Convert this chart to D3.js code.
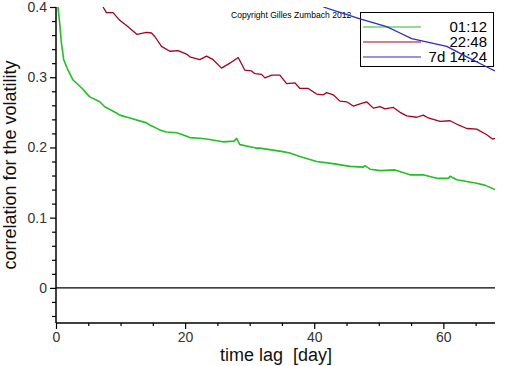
<!DOCTYPE html>
<html>
<head>
<meta charset="utf-8">
<script src="https://cdn.jsdelivr.net/npm/d3@7"></script>
<style>
  body { margin: 0; background: #fff; }
  svg { display: block; }
  text { font-family: "Liberation Sans", Arial, sans-serif; }
</style>
</head>
<body>
<svg id="chart" width="512" height="366"></svg>
<script>
// series: [time lag in days, correlation]
var green0112 = [[0.3,0.400],[0.57,0.377],[0.84,0.349],[1.19,0.325],[1.86,0.310],[2.64,0.296],[3.94,0.285],
  [5.22,0.272],[6.78,0.265],[7.55,0.258],[9.36,0.249],[9.88,0.246],[11.43,0.242],[14.02,0.235],[14.53,0.232],
  [16.08,0.225],[17.12,0.222],[18.67,0.221],[19.64,0.218],[20.73,0.214],[22.28,0.213],[23.32,0.212],[25.84,0.208],
  [27.6,0.209],[27.97,0.213],[28.48,0.204],[31.07,0.199],[31.58,0.199],[35.15,0.194],[36.23,0.192],[37.78,0.187],
  [40.37,0.180],[42.90,0.177],[45.54,0.173],[47.6,0.172],[47.86,0.174],[48.64,0.169],[50.19,0.167],[52.51,0.168],
  [54.84,0.161],[56.85,0.161],[58.98,0.156],[60.8,0.156],[61.04,0.159],[62.08,0.154],[65.18,0.149],[66.5,0.146],[68.0,0.140]];

var red2248 = [[7.29,0.400],[7.81,0.392],[8.84,0.392],[9.88,0.381],[11.16,0.372],[12.56,0.361],[14.02,0.364],
  [14.79,0.363],[15.30,0.358],[16.34,0.344],[17.63,0.337],[18.91,0.338],[20.22,0.333],[20.73,0.329],[22.28,0.325],
  [23.32,0.330],[24.34,0.325],[25.64,0.313],[26.93,0.320],[28.22,0.328],[29.26,0.310],[30.29,0.309],[30.81,0.305],
  [31.84,0.304],[32.36,0.299],[33.40,0.303],[34.68,0.303],[35.72,0.291],[37.01,0.292],[37.78,0.284],[39.07,0.284],
  [40.37,0.276],[41.40,0.275],[41.92,0.278],[42.95,0.275],[43.98,0.266],[45.02,0.265],[46.05,0.259],[47.09,0.262],
  [48.12,0.265],[49.15,0.256],[50.19,0.258],[50.96,0.255],[52.25,0.257],[53.29,0.250],[54.33,0.245],[55.88,0.243],
  [56.90,0.246],[57.67,0.242],[59.49,0.237],[61.04,0.238],[62.33,0.232],[63.63,0.227],[65.18,0.226],[66.73,0.218],
  [67.6,0.212],[68.0,0.213]];

var blue7d1424 = [[41.40,0.400],[47.09,0.383],[51.22,0.372],[53.29,0.363],[55.10,0.355],[60.53,0.344],
  [63.63,0.329],[66.20,0.317],[68.0,0.309]];

var seriesNames = ["01:12", "22:48", "7d 14:24"];
var seriesColors = ["#22c022", "#a8001c", "#2a2ac8"];
var xMajor = [0, 20, 40, 60];
var xMinor = [5, 10, 15, 25, 30, 35, 45, 50, 55, 65];
var yMajor = [0, 0.1, 0.2, 0.3, 0.4];
var yMinor = [-0.04, -0.02, 0.02, 0.04, 0.06, 0.08, 0.12, 0.14, 0.16, 0.18, 0.22, 0.24, 0.26, 0.28, 0.32, 0.34, 0.36, 0.38];

var svg = d3.select("#chart");
var mLeft = 56, mRight = 495, mTop = 7, mBottom = 323;

var x = d3.scaleLinear().domain([0, 68]).range([mLeft, mRight]);
var y = d3.scaleLinear().domain([-0.05, 0.4]).range([mBottom, mTop]);

svg.append("defs").append("clipPath").attr("id", "plot")
  .append("rect").attr("x", mLeft).attr("y", mTop).attr("width", mRight - mLeft).attr("height", mBottom - mTop);

// zero line
svg.append("line")
  .attr("x1", x(0)).attr("x2", x(68))
  .attr("y1", y(0)).attr("y2", y(0))
  .attr("stroke", "#000").attr("stroke-width", 1.2);

// axes
var yAxis = svg.append("g").attr("transform", "translate(" + mLeft + ",0)")
  .call(d3.axisLeft(y).tickValues(yMajor).tickSize(6).tickPadding(3)
    .tickFormat(function(d) { return d === 0 ? "0" : d3.format(".1f")(d); }));
svg.append("g").attr("class", "minor").attr("transform", "translate(" + mLeft + ",0)")
  .call(d3.axisLeft(y).tickValues(yMinor).tickSize(4).tickFormat(""));

var xAxis = svg.append("g").attr("transform", "translate(0," + mBottom + ")")
  .call(d3.axisBottom(x).tickValues(xMajor).tickSize(6).tickPadding(3).tickFormat(d3.format("d")));
svg.append("g").attr("class", "minor").attr("transform", "translate(0," + mBottom + ")")
  .call(d3.axisBottom(x).tickValues(xMinor).tickSize(3).tickFormat(""));

svg.selectAll(".domain").remove();
svg.append("line").attr("x1", mLeft).attr("x2", mLeft).attr("y1", mTop).attr("y2", mBottom)
  .attr("stroke", "#000").attr("stroke-width", 1.5);
svg.append("line").attr("x1", mLeft).attr("x2", mRight).attr("y1", mBottom).attr("y2", mBottom)
  .attr("stroke", "#000").attr("stroke-width", 1.5);

svg.selectAll(".tick line").attr("stroke", "#000").attr("stroke-width", 1.2);
svg.selectAll(".tick text").style("font-family", "Liberation Sans, Arial, sans-serif")
  .style("font-size", "14px").attr("fill", "#333");

// axis titles
svg.append("text").attr("x", 276).attr("y", 361).attr("text-anchor", "middle")
  .style("font-size", "18px").attr("fill", "#111").attr("xml:space", "preserve")
  .text("time lag  [day]");
svg.append("text").attr("transform", "translate(16,165) rotate(-90)").attr("text-anchor", "middle")
  .style("font-size", "18px").attr("fill", "#111")
  .text("correlation for the volatility");

// copyright
svg.append("text").attr("x", 231).attr("y", 18)
  .style("font-size", "8.6px").attr("fill", "#000")
  .text("Copyright Gilles Zumbach 2012");

// legend
var legend = svg.append("g");
legend.append("rect").attr("x", 360.5).attr("y", 12.5).attr("width", 133).attr("height", 54)
  .attr("fill", "#fff").attr("stroke", "#000").attr("stroke-width", 1);
seriesNames.forEach(function(name, i) {
  var ly = 27 + i * 15;
  legend.append("line").attr("x1", 363).attr("x2", 421).attr("y1", ly).attr("y2", ly)
    .attr("stroke", seriesColors[i]).attr("stroke-width", 1.2);
  legend.append("text").attr("x", 487).attr("y", ly + 5).attr("text-anchor", "end")
    .style("font-size", "15px").attr("fill", "#000").text(name);
});

// curves
var line = d3.line().x(function(d) { return x(d[0]); }).y(function(d) { return y(d[1]); });
var plot = svg.append("g").attr("clip-path", "url(#plot)");
[green0112, red2248, blue7d1424].forEach(function(s, i) {
  plot.append("path").datum(s).attr("d", line).attr("fill", "none")
    .attr("stroke", seriesColors[i]).attr("stroke-width", i === 0 ? 1.6 : 1.3)
    .attr("stroke-linejoin", "round");
});
</script>
</body>
</html>
